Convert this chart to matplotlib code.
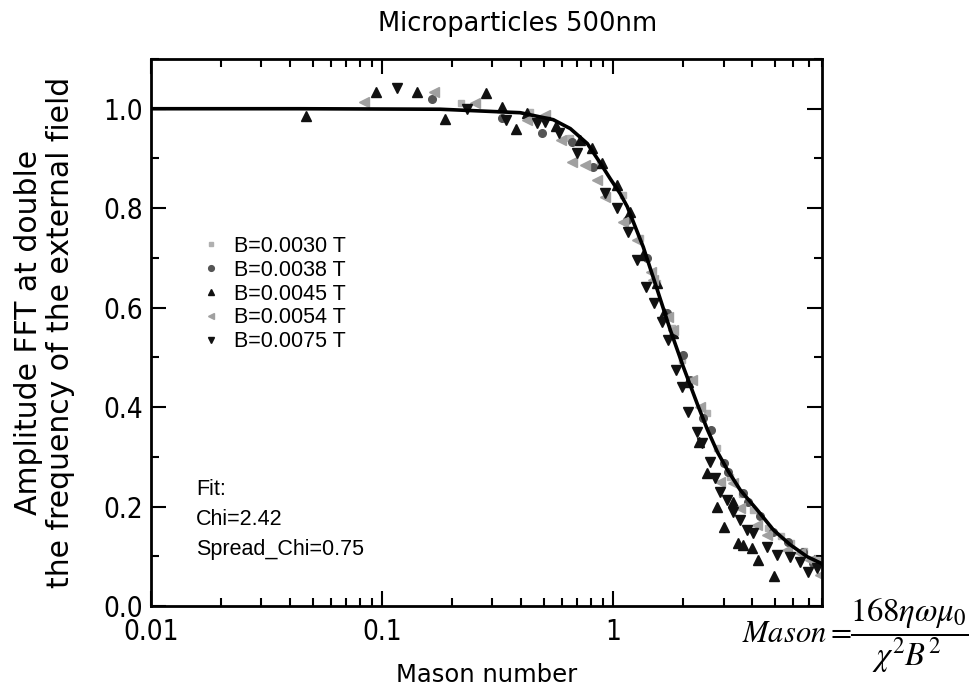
import matplotlib
matplotlib.use("Agg")
import matplotlib.pyplot as plt
from matplotlib.ticker import LogLocator, MultipleLocator, FixedLocator, NullFormatter

plt.rcParams['mathtext.fontset'] = 'stix'

title = "Microparticles 500nm"
xlabel = "Mason number"
ylabel = "Amplitude FFT at double\nthe frequency of the external field"
x_ticks = [0.01, 0.1, 1]
x_ticklabels = ["0.01", "0.1", "1"]
y_ticks = [0.0, 0.2, 0.4, 0.6, 0.8, 1.0]
y_ticklabels = ["0.0", "0.2", "0.4", "0.6", "0.8", "1.0"]
series_labels = ["B=0.0030 T", "B=0.0038 T", "B=0.0045 T", "B=0.0054 T", "B=0.0075 T"]
fit_text = "Fit:\nChi=2.42\nSpread_Chi=0.75"

# Fit curve
fit_m = [0.01, 0.044, 0.178, 0.396, 0.55, 0.652, 0.772, 0.878, 0.971, 1.072, 1.15,
         1.348, 1.55, 1.765, 2.009, 2.311, 2.553, 2.82, 3.115, 3.546, 4.199, 4.93,
         5.836, 6.911, 8.0]
fit_a = [1.0, 1.0, 0.999, 0.992, 0.978, 0.960, 0.930, 0.891, 0.859, 0.829, 0.803,
         0.722, 0.636, 0.555, 0.481, 0.406, 0.355, 0.310, 0.274, 0.233, 0.193, 0.153,
         0.123, 0.099, 0.085]

# B=0.0030 T
m_0030 = [0.22, 0.437, 0.652, 0.878, 1.10, 1.30, 1.55, 1.80, 1.99, 2.2, 2.55, 2.82,
          3.2, 3.6, 4.03, 4.69, 5.3, 5.9, 6.7, 7.6]
a_0030 = [1.012, 0.994, 0.942, 0.891, 0.827, 0.740, 0.650, 0.560, 0.495, 0.455, 0.388,
          0.318, 0.260, 0.225, 0.193, 0.157, 0.140, 0.127, 0.110, 0.093]

# B=0.0038 T
m_0038 = [0.165, 0.331, 0.493, 0.665, 0.82, 1.15, 1.40, 1.70, 2.0, 2.15, 2.45, 2.65,
          3.0, 3.15, 3.65, 3.84, 4.3, 4.93, 5.7, 6.6, 7.3]
a_0038 = [1.02, 0.982, 0.952, 0.934, 0.883, 0.777, 0.700, 0.590, 0.505, 0.455, 0.378,
          0.354, 0.288, 0.270, 0.227, 0.210, 0.180, 0.149, 0.128, 0.109, 0.087]

# B=0.0045 T
m_0045 = [0.047, 0.094, 0.142, 0.187, 0.282, 0.331, 0.38, 0.424, 0.566, 0.72, 0.81,
          0.896, 1.04, 1.185, 1.35, 1.55, 1.65, 1.82, 2.1, 2.35, 2.55, 2.82, 3.0,
          3.3, 3.47, 3.65, 3.99, 4.24, 4.97]
a_0045 = [0.986, 1.034, 1.034, 0.980, 1.032, 1.004, 0.960, 0.992, 0.966, 0.938, 0.922,
          0.891, 0.847, 0.793, 0.706, 0.650, 0.590, 0.549, 0.450, 0.330, 0.268, 0.199,
          0.159, 0.210, 0.127, 0.123, 0.117, 0.093, 0.060]

# B=0.0054 T
m_0054 = [0.0835, 0.168, 0.253, 0.424, 0.508, 0.595, 0.665, 0.757, 0.853, 0.923, 1.10,
          1.27, 1.45, 1.49, 1.73, 1.82, 2.2, 2.38, 2.9, 3.3, 3.55, 4.2, 4.64, 5.66,
          6.44, 7.1, 7.86]
a_0054 = [1.014, 1.034, 1.012, 0.978, 0.988, 0.938, 0.893, 0.887, 0.857, 0.823, 0.773,
          0.736, 0.672, 0.656, 0.581, 0.555, 0.455, 0.400, 0.249, 0.247, 0.197, 0.163,
          0.143, 0.113, 0.107, 0.093, 0.062]

# B=0.0075 T
m_0075 = [0.116, 0.233, 0.345, 0.469, 0.508, 0.584, 0.70, 0.923, 1.04, 1.16, 1.27,
          1.39, 1.505, 1.63, 1.73, 1.86, 1.99, 2.11, 2.31, 2.43, 2.63, 2.76, 2.9,
          3.11, 3.3, 3.55, 3.8, 4.03, 4.64, 5.12, 5.82, 6.44, 6.99, 7.64]
a_0075 = [1.042, 1.0, 0.978, 0.972, 0.974, 0.951, 0.911, 0.831, 0.80, 0.753, 0.696,
          0.642, 0.61, 0.571, 0.535, 0.475, 0.441, 0.39, 0.35, 0.328, 0.29, 0.258,
          0.229, 0.213, 0.189, 0.173, 0.153, 0.147, 0.119, 0.103, 0.099, 0.089, 0.068,
          0.076]

narrow = ['Liberation Sans Narrow', 'Liberation Sans', 'DejaVu Sans']

fig = plt.figure(figsize=(9.72, 6.95), dpi=100)
ax = fig.add_axes([151/972, 1-606/695, (822-151)/972, (606-59)/695])

ms = 5.5
ax.plot(m_0030, a_0030, linestyle='none', marker='s', ms=4.5, color='#b0b0b0', label=series_labels[0])
ax.plot(m_0038, a_0038, linestyle='none', marker='o', ms=ms, color='#555555', label=series_labels[1])
ax.plot(m_0045, a_0045, linestyle='none', marker='^', ms=ms+1, color='#111111', label=series_labels[2])
ax.plot(m_0054, a_0054, linestyle='none', marker='<', ms=ms+1, color='#a0a0a0', label=series_labels[3])
ax.plot(m_0075, a_0075, linestyle='none', marker='v', ms=ms+1, color='#111111', label=series_labels[4])
ax.plot(fit_m, fit_a, color='black', lw=2.6, zorder=5)

ax.set_xscale('log')
ax.set_xlim(0.01, 8.0)
ax.set_ylim(0.0, 1.1)

ax.xaxis.set_major_locator(FixedLocator(x_ticks))
ax.set_xticklabels(x_ticklabels)
ax.xaxis.set_minor_locator(LogLocator(base=10, subs=range(2, 10), numticks=20))
ax.xaxis.set_minor_formatter(NullFormatter())
ax.yaxis.set_major_locator(FixedLocator(y_ticks))
ax.set_yticklabels(y_ticklabels)
ax.yaxis.set_minor_locator(MultipleLocator(0.1))

ax.tick_params(which='both', direction='in', top=True, right=True, width=1.5)
ax.tick_params(which='major', length=11, labelsize=20, pad=6)
ax.tick_params(axis='x', which='major', pad=9)
ax.tick_params(which='minor', length=6)
for lab in ax.get_xticklabels() + ax.get_yticklabels():
    lab.set_fontstretch('condensed')
for s in ax.spines.values():
    s.set_linewidth(2)

ax.set_title(title, fontsize=18.5, pad=20, x=0.547)
ax.set_xlabel(xlabel, fontsize=17.5, labelpad=12)
ax.set_ylabel(ylabel, fontsize=21.5, labelpad=20, linespacing=1.15)

leg = ax.legend(loc='upper left', bbox_to_anchor=(0.045, 0.712), frameon=False,
                prop={'family': narrow, 'size': 15.5},
                handletextpad=0.55, labelspacing=0.13, handlelength=1.0, markerscale=0.75)

ax.text(0.067, 0.232, fit_text, transform=ax.transAxes, va='top', ha='left',
        fontsize=15.5, family=narrow, linespacing=1.55)

fig.text(742/972, 1-634/695, r'$\mathit{Mason}=$', fontsize=22, ha='left', va='center')
fig.text(909/972, 1-636/695, r'$\dfrac{168\eta\omega\mu_0}{\chi^2B^2}$',
         fontsize=23.5, ha='center', va='center')

fig.savefig('out.png', dpi=100)
